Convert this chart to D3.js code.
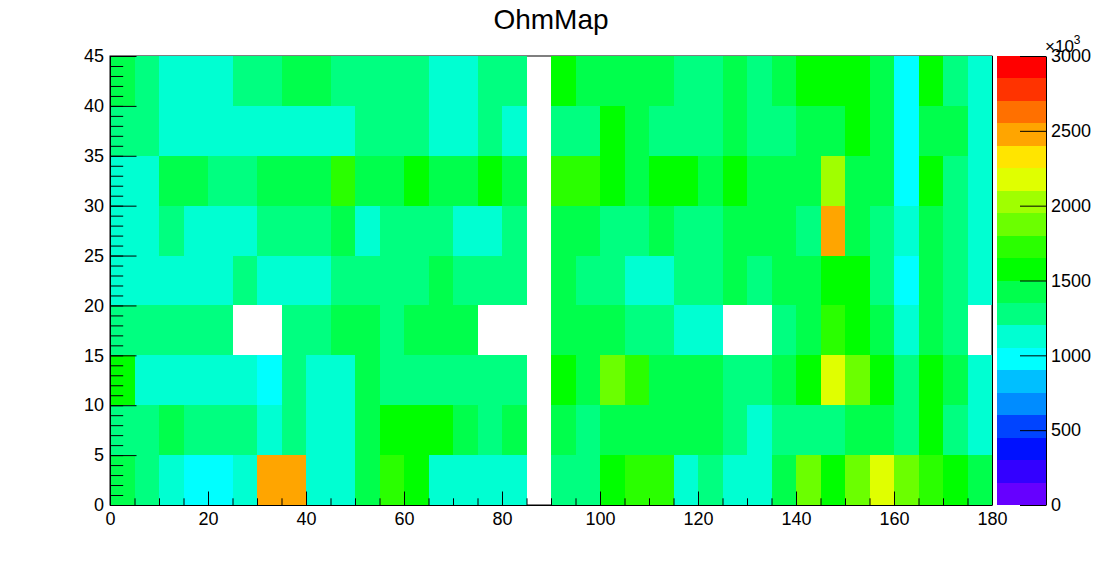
<!DOCTYPE html>
<html>
<head>
<meta charset="utf-8">
<script src="https://cdn.jsdelivr.net/npm/d3@7"></script>
<style>
  body { margin: 0; background: #fff; }
  svg { display: block; }
  text { font-family: "Liberation Sans", Arial, sans-serif; }
</style>
</head>
<body>
<svg id="chart" width="1102" height="562"></svg>
<script>
// bin lower edges
var xBins = [0,5,10,15,20,25,30,35,40,45,50,55,60,65,70,75,80,85,90,95,100,105,110,115,120,125,130,135,140,145,150,155,160,165,170,175];
var yBins = [0,5,10,15,20,25,30,35,40];

// cell contents, units of 10^3 (0 = empty bin, not drawn)
var y00 = [1425,1275,1125,975,975,1125,2475,2475,1125,1125,1425,1725,1575,1125,1125,1125,1125,0,1275,1275,1575,1725,1725,1125,1275,1125,1125,1425,1875,1575,1875,2175,1875,1725,1575,1425];
var y05 = [1275,1275,1425,1275,1275,1275,1125,1275,1125,1125,1425,1575,1575,1575,1425,1275,1425,0,1425,1275,1425,1425,1425,1425,1425,1275,1125,1275,1275,1275,1425,1425,1275,1575,1275,1125];
var y10 = [1575,1125,1125,1125,1125,1125,975,1275,1125,1125,1425,1275,1275,1275,1275,1275,1275,0,1575,1425,1875,1725,1425,1425,1425,1275,1275,1425,1575,2175,1875,1575,1275,1575,1425,1125];
var y15 = [1275,1275,1275,1275,1275,0,0,1275,1275,1425,1425,1275,1425,1425,1425,0,0,0,1425,1425,1425,1275,1275,1125,1125,0,0,1275,1425,1725,1575,1425,1125,1425,1275,0];
var y20 = [1125,1125,1125,1125,1125,1275,1125,1125,1125,1275,1275,1275,1275,1425,1275,1275,1275,0,1425,1275,1275,1125,1125,1275,1275,1425,1275,1425,1425,1575,1575,1275,975,1425,1275,1125];
var y25 = [1125,1125,1275,1125,1125,1125,1275,1275,1275,1425,1125,1275,1275,1275,1125,1125,1275,0,1425,1425,1275,1275,1425,1275,1275,1425,1425,1425,1275,2475,1425,1275,1125,1425,1275,1125];
var y30 = [1125,1125,1425,1425,1275,1275,1425,1425,1425,1725,1425,1425,1575,1425,1425,1575,1425,0,1725,1725,1575,1425,1575,1575,1425,1575,1425,1425,1425,2025,1425,1425,975,1575,1275,1125];
var y35 = [1275,1275,1125,1125,1125,1125,1125,1125,1125,1125,1275,1275,1275,1125,1125,1275,1125,0,1275,1275,1575,1425,1275,1275,1275,1425,1275,1275,1425,1425,1575,1425,975,1425,1425,1125];
var y40 = [1425,1275,1125,1125,1125,1275,1275,1425,1425,1275,1275,1275,1275,1125,1125,1275,1275,0,1575,1425,1425,1425,1425,1275,1275,1425,1275,1425,1575,1575,1575,1425,975,1575,1275,1125];
var rows = [y00, y05, y10, y15, y20, y25, y30, y35, y40];

var xTicks = [0,20,40,60,80,100,120,140,160,180];
var yTicks = [0,5,10,15,20,25,30,35,40,45];
var zTicks = [0,500,1000,1500,2000,2500,3000];

// ROOT pretty palette, 20 contour levels
var palette = ["#6600ff","#3300ff","#0011ff","#0044ff","#008cff","#00bfff","#00ffff","#00ffd2","#00ff80","#00ff4c",
               "#00ff00","#2aff00","#6bff00","#a0ff00","#e0ff00","#ffe500","#ffa500","#ff7000","#ff3300","#ff0000"];

var svg = d3.select("#chart");
var padL = 110, padR = 992, padT = 56, padB = 505;

var x = d3.scaleLinear().domain([0, 180]).range([padL, padR]);
var y = d3.scaleLinear().domain([0, 45]).range([padB, padT]);
var z = d3.scaleLinear().domain([0, 3000]).range([padB, padT]);
var color = d3.scaleQuantize().domain([0, 3000]).range(palette);

svg.append("rect").attr("width", 1102).attr("height", 562).attr("fill", "#fff");

// frame
svg.append("rect")
    .attr("x", padL).attr("y", padT)
    .attr("width", padR - padL).attr("height", padB - padT)
    .attr("fill", "none").attr("stroke", "#000").attr("stroke-width", 1);

// cells
var cells = [];
rows.forEach(function(r, j) {
  r.forEach(function(v, i) {
    if (v > 0) cells.push({x0: xBins[i], y0: yBins[j], v: v});
  });
});

svg.append("g").selectAll("rect")
  .data(cells)
  .enter()
    .append("rect")
    .attr("x", function(d) { return x(d.x0); })
    .attr("y", function(d) { return y(d.y0 + 5); })
    .attr("width", function(d) { return x(d.x0 + 5) - x(d.x0); })
    .attr("height", function(d) { return y(d.y0) - y(d.y0 + 5); })
    .attr("fill", function(d) { return color(d.v); })
    .attr("shape-rendering", "crispEdges");

// right frame edge stays visible
svg.append("line")
    .attr("x1", padR + 0.5).attr("x2", padR + 0.5)
    .attr("y1", padT).attr("y2", padB)
    .attr("stroke", "#000");

// x axis: minor then major, ticks inside
svg.append("g")
    .attr("transform", "translate(0," + padB + ")")
    .call(d3.axisBottom(x).tickValues(xBins.concat([180])).tickSizeInner(-6.7).tickSizeOuter(0).tickFormat(""))
    .call(function(g) { g.select(".domain").remove(); });

svg.append("g")
    .attr("class", "xaxis")
    .attr("transform", "translate(0," + padB + ")")
    .call(d3.axisBottom(x).tickValues(xTicks).tickSizeInner(-13.5).tickSizeOuter(0).tickPadding(7));

// y axis
svg.append("g")
    .attr("transform", "translate(" + padL + ",0)")
    .call(d3.axisLeft(y).ticks(45).tickSizeInner(-13.2).tickSizeOuter(0).tickFormat(""))
    .call(function(g) { g.select(".domain").remove(); });

svg.append("g")
    .attr("class", "yaxis")
    .attr("transform", "translate(" + padL + ",0)")
    .call(d3.axisLeft(y).tickValues(yTicks).tickSizeInner(-26.5).tickSizeOuter(0).tickPadding(6));

// palette
var bands = palette.map(function(c, i) { return {lo: i * 150, hi: (i + 1) * 150, c: c}; });
svg.append("g").selectAll("rect")
  .data(bands)
  .enter()
    .append("rect")
    .attr("x", 997)
    .attr("y", function(d) { return z(d.hi); })
    .attr("width", 49)
    .attr("height", function(d) { return z(d.lo) - z(d.hi); })
    .attr("fill", function(d) { return d.c; })
    .attr("shape-rendering", "crispEdges");

svg.append("g")
    .attr("class", "zaxis")
    .attr("transform", "translate(1046,0)")
    .call(d3.axisRight(z).tickValues(zTicks).tickFormat(d3.format("d"))
      .tickSizeInner(-26).tickSizeOuter(0).tickPadding(5));

svg.selectAll(".xaxis, .yaxis, .zaxis")
    .call(function(g) {
      g.selectAll("text").attr("font-size", 18).attr("fill", "#000")
        .style("font-family", "'Liberation Sans', Arial, sans-serif");
      g.selectAll("line, path").attr("stroke", "#000");
    });

// x10^3 multiplier
var mult = svg.append("text")
    .attr("x", 1045).attr("y", 52)
    .attr("font-size", 17)
    .text("×10");
mult.append("tspan").attr("dy", -8).attr("font-size", 12).text("3");

// title
svg.append("text")
    .attr("x", 551).attr("y", 29)
    .attr("text-anchor", "middle")
    .attr("font-size", 28)
    .text("OhmMap");
</script>
</body>
</html>
